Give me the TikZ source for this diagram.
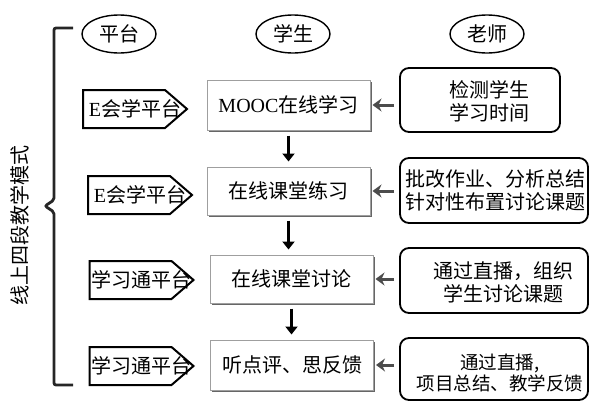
\documentclass[tikz,border=0pt]{standalone}
\usepackage{fontspec}
\setmainfont{Liberation Serif}
\newfontfamily\cjk{Noto Sans CJK SC}
\usetikzlibrary{arrows.meta,shapes.geometric,shadows,calc}
\newcommand\platbox[4]{%
  \node[plat] (#1) at (#2,#3) {#4};
  \draw[platline] ($(#1.center)+(-52,-19)$) -- ++(82,0) -- ++(22,19) -- ++(-22,19) -- ++(-82,0) -- cycle;
}
\begin{document}
\begin{tikzpicture}[x=1pt,y=-1pt,
  every node/.style={font=\fontsize{20}{23}\selectfont\cjk},
  oval/.style={draw,ellipse,line width=1.4pt,minimum width=74pt,minimum height=38pt,inner sep=0pt},
  stu/.style={draw=gray!75,line width=1pt,fill=white,minimum width=163pt,inner sep=0pt,
    drop shadow={shadow xshift=1.8pt,shadow yshift=-1.8pt,fill=gray!80!black,opacity=1}},
  tea/.style={draw,line width=1.8pt,rounded corners=9pt,inner sep=0pt},
  plat/.style={inner sep=0pt},
  platline/.style={line width=2pt,line join=miter},
  downarr/.style={line width=3.5pt,-{Triangle[width=12pt,length=8pt]},shorten <=5pt,shorten >=5pt},
  leftarr/.style={line width=3pt,gray!60!black,-{Stealth[width=13pt,length=9pt]},shorten <=5pt,shorten >=2pt},
  txt/.style={align=center,inner sep=0pt}
]
\useasboundingbox (0,0) rectangle (590,402);

% header ellipses
\node[oval] (hplat) at (119,34) {平台};
\node[oval] (hstu) at (293,34) {学生};
\node[oval] (htea) at (487,34) {老师};

% student boxes
\node[stu,minimum height=50pt] (s1) at (288.5,105) {{\rmfamily MOOC}在线学习};
\node[stu,minimum height=48pt] (s2) at (288.5,191) {在线课堂练习};
\node[stu,minimum height=48pt] (s3) at (291.5,279) {在线课堂讨论};
\node[stu,minimum height=50pt] (s4) at (292,365) {听点评、思反馈};

% teacher boxes
\node[tea,minimum width=160pt,minimum height=64pt] (t1) at (480,100) {};
\node[tea,minimum width=188pt,minimum height=65pt] (t2) at (494,190.5) {};
\node[tea,minimum width=188pt,minimum height=65pt] (t3) at (494,280.5) {};
\node[tea,minimum width=188pt,minimum height=62pt] (t4) at (494,369) {};
\node[txt] (tt1) at (489,101) {检测学生\\学习时间};
\node[txt] (tt2) at (495,190) {批改作业、分析总结\\针对性布置讨论课题};
\node[txt] (tt3) at (503,282) {通过直播，组织\\学生讨论课题};
\node[txt,font=\fontsize{18.5}{21}\selectfont\cjk] (tt4) at (500,373) {通过直播,\\项目总结、教学反馈};

% platform pentagons
\platbox{p1}{135}{109}{{\rmfamily E}会学平台}
\platbox{p2}{140}{195}{{\rmfamily E}会学平台}
\platbox{p3}{141.5}{280}{学习通平台}
\platbox{p4}{141.5}{366}{学习通平台}

% down arrows
\draw[downarr] (s1.south) -- (s1.south |- s2.north);
\draw[downarr] (s2.south) -- (s2.south |- s3.north);
\draw[downarr] (s3.south) -- (s3.south |- s4.north);

% left arrows
\draw[leftarr] (s1.east -| t1.west) -- (s1.east);
\draw[leftarr] (s2.east -| t2.west) -- (s2.east);
\draw[leftarr] (s3.east -| t3.west) -- (s3.east);
\draw[leftarr] (s4.east -| t4.west) -- (s4.east);

% bracket
\draw[line width=2.8pt,gray!30!black,rounded corners=2pt]
  (73,28) -- (54,28) -- (54,200) -- (45,206) -- (54,212) -- (54,385) -- (73,385);

% vertical label
\node[rotate=90] (mode) at (20,225) {线上四段教学模式};
\end{tikzpicture}
\end{document}
